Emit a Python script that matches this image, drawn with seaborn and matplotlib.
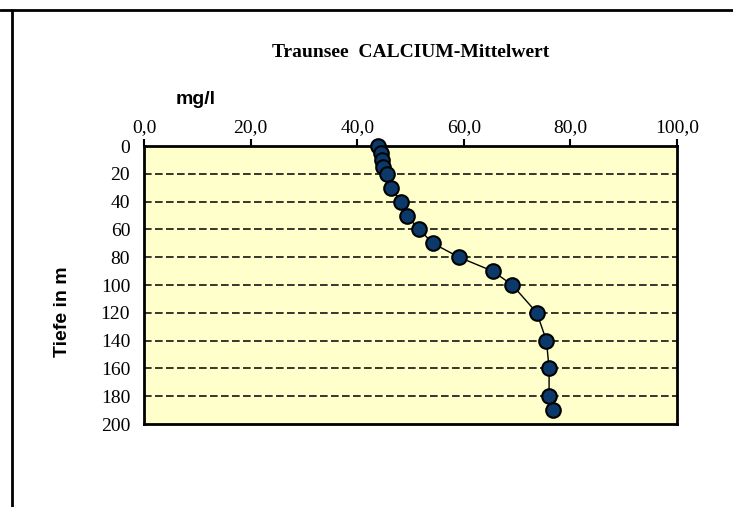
import matplotlib
matplotlib.use("Agg")
import matplotlib.pyplot as plt
from matplotlib.lines import Line2D
import seaborn as sns
import pandas as pd

# Ca-Mittelwerte je Tiefe
tiefe = [0, 5, 10, 15, 20, 30, 40, 50, 60, 70, 80, 90, 100, 120, 140, 160, 180, 190]
calcium = [43.9, 44.4, 44.6, 44.8, 45.5, 46.3, 48.2, 49.3, 51.6, 54.2, 59.1, 65.4, 69.1, 73.7, 75.5, 76.0, 76.0, 76.7]
x_ticks = [0, 20, 40, 60, 80, 100]
y_ticks = list(range(0, 201, 20))

df = pd.DataFrame({"tiefe": tiefe, "calcium": calcium})

sns.set_style("white")
plt.rcParams["font.family"] = ["Liberation Serif", "DejaVu Serif"]
plt.rcParams["text.color"] = "black"
plt.rcParams["xtick.color"] = "black"
plt.rcParams["ytick.color"] = "black"

fig = plt.figure(figsize=(7.33, 5.07), dpi=100)
ax = fig.add_axes([0.1965, 0.1637, 0.7271, 0.5483])
ax.set_facecolor("#FFFFCC")

# gestrichelte Hilfslinien
for y in y_ticks[1:-1]:
    ax.axhline(y, color="black", lw=1.1, ls=(0, (5, 2.2)), zorder=1)

sns.lineplot(data=df, x="calcium", y="tiefe", sort=False, estimator=None,
             color="black", lw=1.0, marker="o", markersize=10.5,
             markerfacecolor="#0B3A6A", markeredgecolor="black",
             markeredgewidth=1.5, ax=ax, zorder=3, clip_on=False)

ax.set_xlim(0, 100)
ax.set_ylim(200, 0)
ax.xaxis.tick_top()
ax.set_xticks(x_ticks)
ax.set_xticklabels([f"{v},0" for v in x_ticks])
ax.set_yticks(y_ticks)
ax.tick_params(axis="x", direction="out", length=5, width=1.5, labelsize=14, pad=2)
ax.tick_params(axis="y", direction="out", length=6, width=1.5, labelsize=14, pad=4)
ax.set_xlabel("")
ax.set_ylabel("")
for s in ax.spines.values():
    s.set_color("black")
    s.set_linewidth(2)

fig.text(0.56, 0.897, "Traunsee  CALCIUM-Mittelwert", ha="center", va="center",
         fontsize=14, fontweight="bold")
fig.text(0.267, 0.803, "mg/l", ha="center", va="center", fontsize=14,
         fontweight="bold", family=["Liberation Sans", "DejaVu Sans"])
fig.text(0.085, 0.385, "Tiefe in m", ha="center", va="center", rotation=90,
         fontsize=14, fontweight="bold", family=["Liberation Sans", "DejaVu Sans"])

# Rahmen des Diagramms (angeschnitten)
fig.add_artist(Line2D([0, 1], [0.980, 0.980], color="black", lw=2, transform=fig.transFigure))
fig.add_artist(Line2D([0.017, 0.017], [0, 0.980], color="black", lw=2, transform=fig.transFigure))

fig.savefig("out.png", dpi=100)
